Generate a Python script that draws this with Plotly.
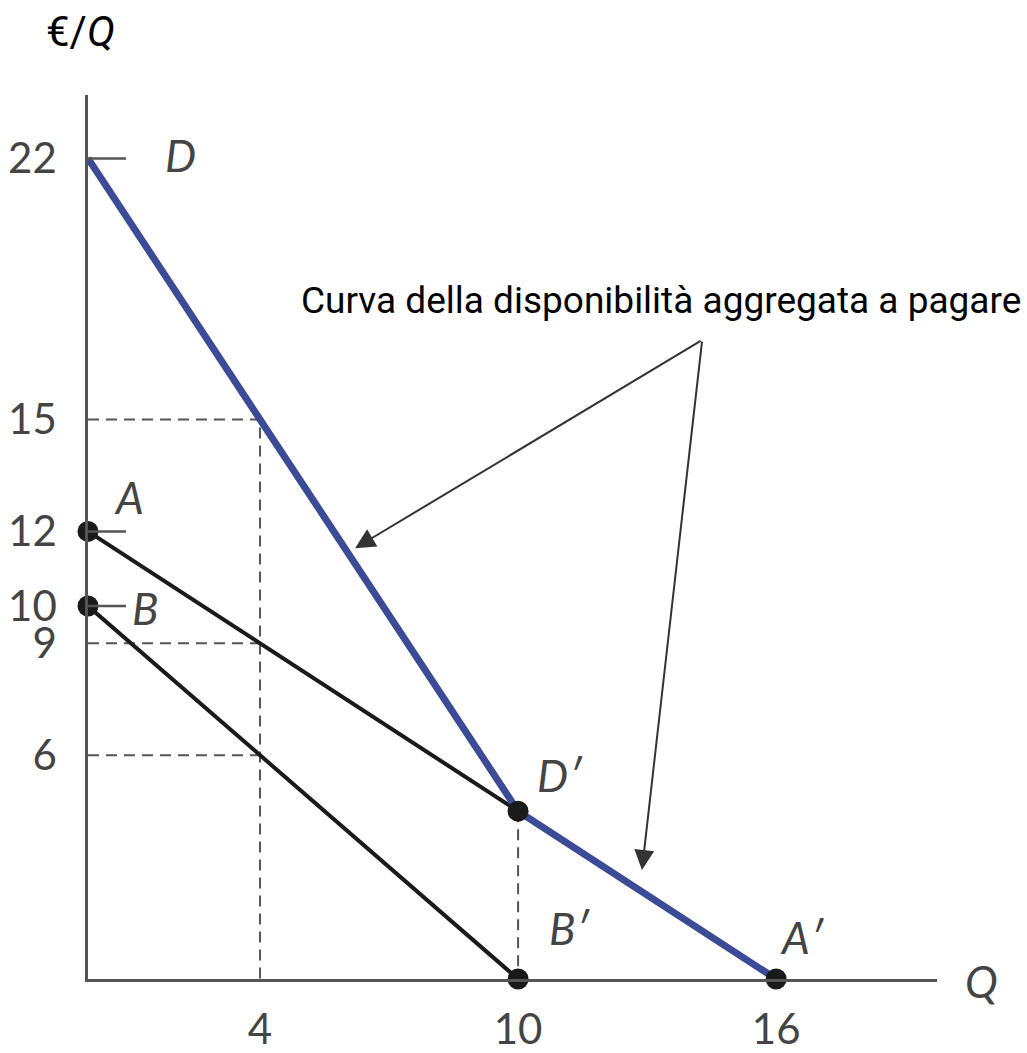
import plotly.graph_objects as go

# Individual willingness-to-pay curves (quantity, price)
q_A = [0, 16]
p_A = [12, 0]
q_B = [0, 10]
p_B = [10, 0]

# Aggregate willingness-to-pay curve (vertical sum of A and B)
q_D = [0, 10, 16]
p_D = [22, 4.5, 0]

# Labelled points
pt_names = ["A", "B", "D′", "B′", "A′"]
pt_q = [0, 0, 10, 10, 16]
pt_p = [12, 10, 4.5, 0, 0]

# Axis ticks
y_ticks = [22, 15, 12, 10, 9, 6]
x_ticks = [4, 10, 16]

# Reading at Q = 4: aggregate, A, B
q_read = 4
p_read = [15, 9, 6]

# Solid inner ticks on the price axis
solid_ticks = [22, 12, 10]

BLUE = "#3b4b96"
AXIS = "#555555"
TXT = "#444444"
NUM_FONT = "Lato, 'Open Sans', sans-serif"
CAP_FONT = "Roboto, 'Noto Sans', sans-serif"

fig = go.Figure()

# Dashed reading lines
dash = dict(color=AXIS, width=2, dash="11px,7px")
fig.add_trace(go.Scatter(x=[0, q_read, q_read], y=[p_read[0], p_read[0], 0],
                         mode="lines", line=dash, hoverinfo="skip"))
for p in p_read[1:]:
    fig.add_trace(go.Scatter(x=[0, q_read], y=[p, p], mode="lines",
                             line=dash, hoverinfo="skip"))
fig.add_trace(go.Scatter(x=[q_D[1], q_D[1]], y=[p_D[1], 0], mode="lines",
                         line=dash, hoverinfo="skip"))

# Individual curves
fig.add_trace(go.Scatter(x=q_A, y=p_A, mode="lines", cliponaxis=False,
                         line=dict(color="#1a1a1a", width=4), hoverinfo="skip"))
fig.add_trace(go.Scatter(x=q_B, y=p_B, mode="lines", cliponaxis=False,
                         line=dict(color="#1a1a1a", width=4), hoverinfo="skip"))

# Aggregate curve
fig.add_trace(go.Scatter(x=q_D, y=p_D, mode="lines", cliponaxis=False,
                         line=dict(color=BLUE, width=7), hoverinfo="skip"))

# Points
fig.add_trace(go.Scatter(x=pt_q, y=pt_p, mode="markers", cliponaxis=False,
                         marker=dict(color="#1a1a1a", size=21), hoverinfo="skip"))

# Short solid ticks on the price axis
for p in solid_ticks:
    fig.add_shape(type="line", xref="x", yref="y", xsizemode="pixel", xanchor=0,
                  x0=0, x1=38, y0=p, y1=p, line=dict(color=AXIS, width=2.5))

# Point labels
label_shift = {
    "A": (41, 34), "B": (57, -2), "D′": (42, 36), "B′": (51, 51), "A′": (26, 42),
}
lab_font = dict(family=NUM_FONT, size=44, color=TXT)
for name, q, p in zip(pt_names, pt_q, pt_p):
    dx, dy = label_shift[name]
    fig.add_annotation(x=q, y=p, xref="x", yref="y", text=f"<i>{name}</i>",
                       showarrow=False, xshift=dx, yshift=dy, font=lab_font)

# D label at the top of the aggregate curve
fig.add_annotation(x=q_D[0], y=p_D[0], xref="x", yref="y", text="<i>D</i>",
                   showarrow=False, xshift=92, yshift=3, font=lab_font)

X_MAX = 19.74
Y_MAX = 23.7

# Quantity axis label
fig.add_annotation(x=X_MAX, y=0, xref="x", yref="y", text="<i>Q</i>",
                   showarrow=False, xshift=44, yshift=-2, font=lab_font)

# Price axis label
fig.add_annotation(x=-0.0094, y=1.072, xref="paper", yref="paper",
                   xanchor="center", yanchor="middle",
                   text="€/<i>Q</i>", showarrow=False,
                   font=dict(family=CAP_FONT, size=42, color="#000000"))

# Caption with two arrows to the aggregate curve
fig.add_annotation(x=13.33, y=18.2, xref="x", yref="y",
                   text="Curva della disponibilità aggregata a pagare",
                   showarrow=False,
                   font=dict(family=CAP_FONT, size=37, color="#000000"))
apex = (14.28, 17.13)
for tip in [(6.21, 11.55), (12.88, 2.92)]:
    fig.add_annotation(x=tip[0], y=tip[1], ax=apex[0], ay=apex[1],
                       xref="x", yref="y", axref="x", ayref="y", text="",
                       showarrow=True, arrowhead=2, arrowsize=2,
                       arrowwidth=2, arrowcolor="#333333")

tick_font = dict(family=NUM_FONT, size=42, color=TXT)
fig.update_xaxes(range=[0, X_MAX], showline=True, linecolor=AXIS, linewidth=2.5,
                 showgrid=False, zeroline=False, tickmode="array",
                 tickvals=x_ticks, ticktext=[str(v) for v in x_ticks],
                 ticks="", ticklabelstandoff=12, tickfont=tick_font,
                 automargin=False)
fig.update_yaxes(range=[0, Y_MAX], showline=True, linecolor=AXIS, linewidth=2.5,
                 showgrid=False, zeroline=False, tickmode="array",
                 tickvals=y_ticks, ticktext=[str(v) for v in y_ticks],
                 ticks="", ticklabelstandoff=20, tickfont=tick_font,
                 automargin=False)

fig.update_layout(width=1027, height=1053,
                  margin=dict(l=88, r=90, t=95, b=74),
                  paper_bgcolor="white", plot_bgcolor="white",
                  showlegend=False)

fig.write_html("out.html")
